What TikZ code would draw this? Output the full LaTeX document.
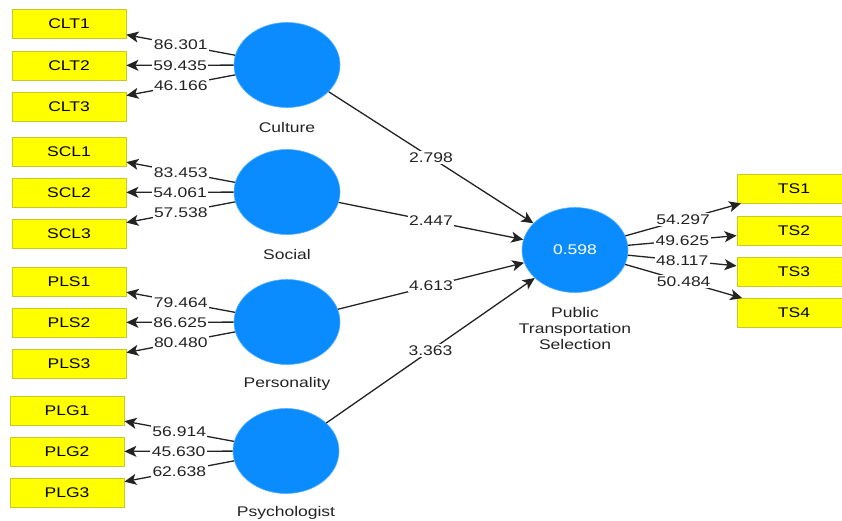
\documentclass[tikz,border=0pt]{standalone}
\usepackage{fontspec}
\setmainfont{Liberation Sans}[FakeStretch=1.25]
\usetikzlibrary{arrows.meta,shapes.geometric}
\definecolor{boxfill}{RGB}{255,255,0}
\definecolor{boxborder}{RGB}{200,200,40}
\definecolor{latblue}{RGB}{10,140,255}
\definecolor{linegray}{RGB}{35,35,35}
\definecolor{textgray}{RGB}{35,35,35}
\begin{document}
\begin{tikzpicture}[x=1pt,y=-1pt,
 ind/.style={draw=boxborder, fill=boxfill, line width=0.8pt, minimum width=114pt, minimum height=29pt, inner sep=0pt, font=\fontsize{14}{16}\selectfont},
 lat/.style={ellipse, fill=latblue, draw=latblue!70, line width=0.6pt, minimum width=106pt, minimum height=85pt, inner sep=0pt, text=white, font=\fontsize{14}{16}\selectfont},
 lbl/.style={font=\fontsize{14}{16}\selectfont, align=center, text=textgray, inner sep=0pt},
 pth/.style={draw=linegray, line width=1.3pt, -{Stealth[length=12pt,width=11pt,inset=3pt]}},
 val/.style={fill=white, inner sep=1.5pt, font=\fontsize{14}{16}\selectfont, text=textgray}
]
\useasboundingbox (0,0) rectangle (842,521);
\clip (0,0) rectangle (842,521);
\fill[white] (0,0) rectangle (842,521);

% indicator boxes, left
\node[ind] (CLT1) at (69,24) {CLT1};
\node[ind] (CLT2) at (69,65.5) {CLT2};
\node[ind] (CLT3) at (69,106.5) {CLT3};
\node[ind] (SCL1) at (69,151.5) {SCL1};
\node[ind] (SCL2) at (69,192.5) {SCL2};
\node[ind] (SCL3) at (69,233.5) {SCL3};
\node[ind] (PLS1) at (69,281.5) {PLS1};
\node[ind] (PLS2) at (69,322.5) {PLS2};
\node[ind] (PLS3) at (69,363.5) {PLS3};
\node[ind] (PLG1) at (67,410.5) {PLG1};
\node[ind] (PLG2) at (67,451.5) {PLG2};
\node[ind] (PLG3) at (67,492.5) {PLG3};

% indicator boxes, right
\node[ind] (TS1) at (794,188.5) {TS1};
\node[ind] (TS2) at (794,230.5) {TS2};
\node[ind] (TS3) at (794,271.5) {TS3};
\node[ind] (TS4) at (794,313) {TS4};

% latent variables
\node[lat] (CUL) at (287,65) {};
\node[lat] (SOC) at (287,192) {};
\node[lat] (PER) at (287,322) {};
\node[lat] (PSY) at (286,451) {};
\node[lat] (PTS) at (575,250) {0.598};

\node[lbl] (lCUL) at (287,127) {Culture};
\node[lbl] (lSOC) at (287,254) {Social};
\node[lbl] (lPER) at (287,384) {Personality};
\node[lbl] (lPSY) at (286,513) {Psychologist};
\node[lbl] (lPTS) at (575,328) {Public\\Transportation\\Selection};

% outer loadings
\draw[pth] (CUL) -- node[val]{86.301} (CLT1);
\draw[pth] (CUL) -- node[val]{59.435} (CLT2);
\draw[pth] (CUL) -- node[val]{46.166} (CLT3);
\draw[pth] (SOC) -- node[val]{83.453} (SCL1);
\draw[pth] (SOC) -- node[val]{54.061} (SCL2);
\draw[pth] (SOC) -- node[val]{57.538} (SCL3);
\draw[pth] (PER) -- node[val]{79.464} (PLS1);
\draw[pth] (PER) -- node[val]{86.625} (PLS2);
\draw[pth] (PER) -- node[val]{80.480} (PLS3);
\draw[pth] (PSY) -- node[val]{56.914} (PLG1);
\draw[pth] (PSY) -- node[val]{45.630} (PLG2);
\draw[pth] (PSY) -- node[val]{62.638} (PLG3);
\draw[pth] (PTS) -- node[val]{54.297} (TS1);
\draw[pth] (PTS) -- node[val]{49.625} (TS2);
\draw[pth] (PTS) -- node[val]{48.117} (TS3);
\draw[pth] (PTS) -- node[val]{50.484} (TS4);

% structural paths
\draw[pth] (CUL) -- node[val]{2.798} (PTS);
\draw[pth] (SOC) -- node[val]{2.447} (PTS);
\draw[pth] (PER) -- node[val]{4.613} (PTS);
\draw[pth] (PSY) -- node[val]{3.363} (PTS);
\end{tikzpicture}
\end{document}
